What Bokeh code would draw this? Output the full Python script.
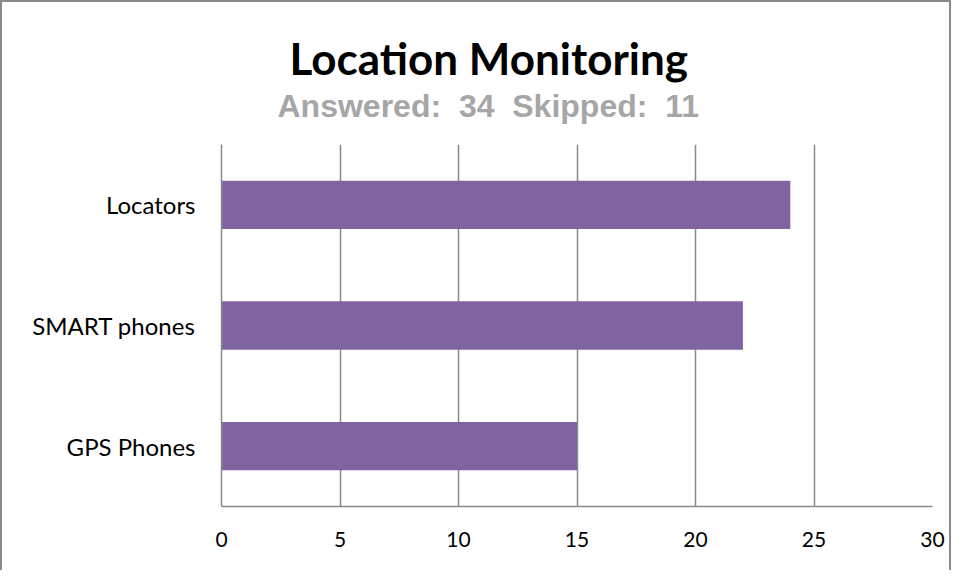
from bokeh.plotting import figure
from bokeh.models import Range1d, FactorRange, Title, FixedTicker
from bokeh.embed import file_html
from bokeh.resources import INLINE

categories = ["GPS Phones", "SMART phones", "Locators"]
counts = [15, 22, 24]
x_ticks = [0, 5, 10, 15, 20, 25, 30]
title_text = "Location Monitoring"
subtitle_text = "Answered:\u00a0 34\u00a0 Skipped:\u00a0 11"

W, H = 951, 570
p = figure(width=W, height=H, output_backend="svg", toolbar_location=None,
           x_range=Range1d(0, 30), y_range=FactorRange(*categories, range_padding=0),
           min_border_left=219, min_border_right=21, min_border_top=142, min_border_bottom=66)
p.outline_line_color = None
p.styles = {"border-left": "2px solid #8a8a8a", "border-top": "2px solid #8a8a8a",
            "border-right": "2px solid #8a8a8a", "box-sizing": "border-box"}

p.hbar(y=categories, right=counts, left=0, height=0.4, fill_color="#8064A2", line_color=None)

p.xaxis.ticker = FixedTicker(ticks=x_ticks)
p.xgrid.ticker = FixedTicker(ticks=x_ticks)
p.xgrid.grid_line_color = "#8a8a8a"
p.xgrid.grid_line_width = 1.5
p.ygrid.grid_line_color = None

for ax in (p.xaxis, p.yaxis):
    ax.axis_line_color = "#8a8a8a"
    ax.axis_line_width = 1.5
    ax.major_tick_line_color = None
    ax.minor_tick_line_color = None
    ax.major_label_text_font = "Lato"
    ax.major_label_text_color = "#000000"
p.xaxis.major_label_text_font_size = "21px"
p.yaxis.major_label_text_font_size = "24px"
p.xaxis.major_label_standoff = 19
p.yaxis.major_label_standoff = 20

p.title.text = title_text
p.title.align = "left"
p.title.offset = 68
p.title.standoff = -36
p.title.text_font = "Lato"
p.title.text_font_style = "bold"
p.title.text_font_size = "44px"
p.title.text_color = "#000000"
p.add_layout(Title(text=subtitle_text, align="left", offset=56, standoff=41,
                   text_font="Liberation Sans",
                   text_font_style="bold", text_font_size="32px", text_color="#a6a6a6"),
             "above")

open("out.html", "w").write(file_html(p, INLINE))
